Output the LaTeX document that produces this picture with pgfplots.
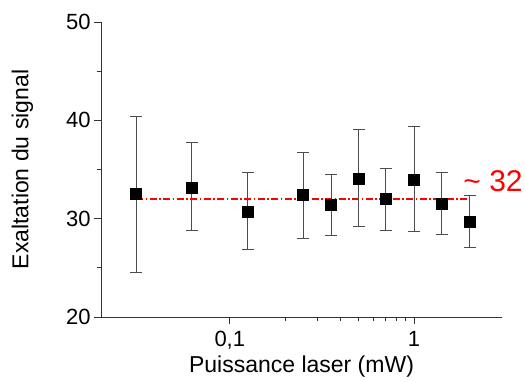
\documentclass[border=0pt]{standalone}
\usepackage{fontspec}
\setmainfont{Liberation Sans}
\usepackage{pgfplots}
\pgfplotsset{compat=1.18}
\begin{document}
\begin{tikzpicture}
\begin{axis}[
  scale only axis,
  width=401pt, height=295pt,
  xmode=log,
  xmin=0.02, xmax=3,
  ymin=20, ymax=50,
  axis lines=left,
  axis line style={-, black!80, line width=0.9pt},
  xtick={0.1,1},
  xticklabels={{0,1},1},
  ytick={20,30,40,50},
  minor ytick={25,35,45},
  tick align=outside,
  major tick length=7pt,
  minor tick length=4pt,
  tick style={black!80, line width=0.8pt},
  /pgf/number format/assume math mode=true,
  tick label style={font=\fontsize{22}{26}\selectfont},
  xticklabel style={yshift=-4pt},
  label style={font=\fontsize{23}{27}\selectfont},
  xlabel={Puissance laser (mW)},
  ylabel={Exaltation du signal},
  xlabel style={yshift=1pt},
  ylabel style={yshift=26pt},
  clip=false,
]
\addplot[draw=red, color=red, line width=1.2pt, dash pattern=on 7pt off 2.5pt on 1.5pt off 2.5pt] coordinates {(0.031,32) (2.0,32)};
\addplot[
  only marks, mark=square*, mark size=5.5pt, black,
  error bars/.cd, y dir=both, y explicit,
  error mark options={rotate=90, mark size=6pt, black!70, line width=0.8pt},
  error bar style={black!70, line width=0.8pt},
] table[x=x, y=y, y error plus=ep, y error minus=em] {
x      y      ep     em
0.031  32.5   7.95   7.95
0.062  33.2   4.57   4.42
0.125  30.75  3.93   3.86
0.25   32.4   4.35   4.40
0.355  31.4   3.08   3.10
0.5    34.1   4.95   4.91
0.70   32.0   3.16   3.22
1.0    34.0   5.36   5.32
1.41   31.5   3.22   3.06
2.0    29.7   2.62   2.61
};
\node[red, anchor=east, inner sep=0pt, font=\fontsize{30}{34}\selectfont] at (rel axis cs:1.052,0.462) {\textasciitilde{} 32};
\end{axis}
\pgfresetboundingbox
\path[use as bounding box] ([shift={(-101pt,-64pt)}]current axis.south west) rectangle ([shift={(424pt,317pt)}]current axis.south west);
\end{tikzpicture}
\end{document}
